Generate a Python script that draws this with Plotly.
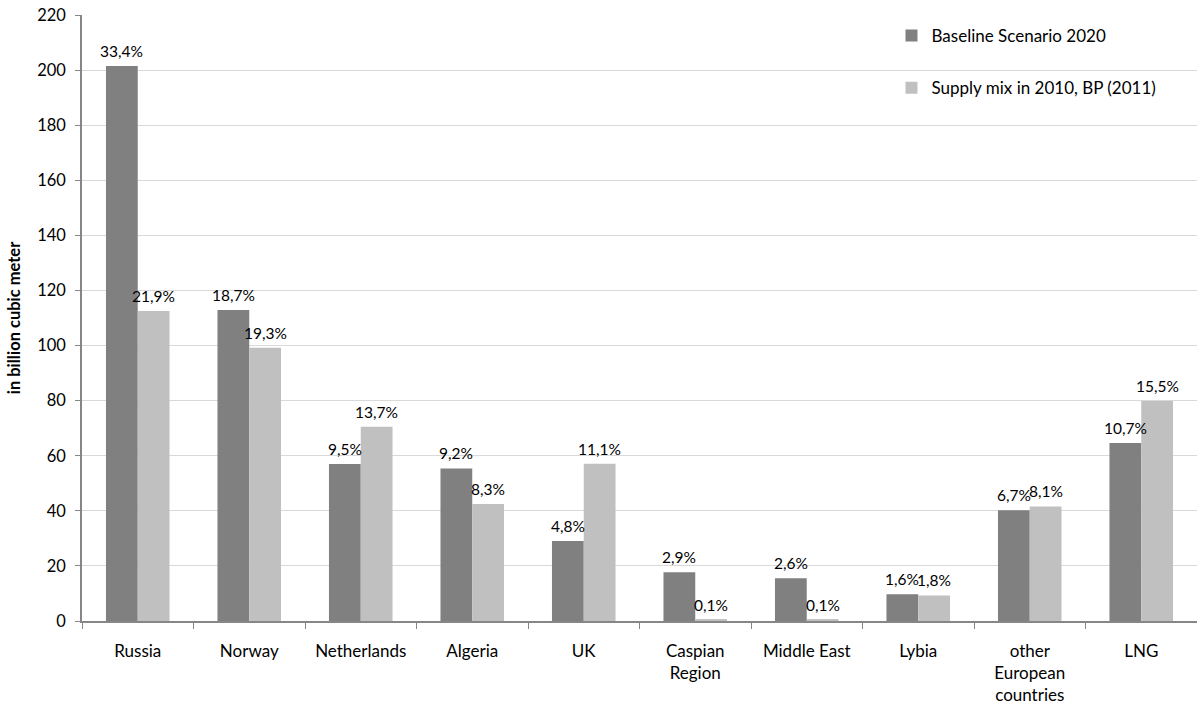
import plotly.graph_objects as go

categories = ["Russia", "Norway", "Netherlands", "Algeria", "UK", "Caspian<br>Region",
              "Middle East", "Lybia", "other<br>European<br>countries", "LNG"]
baseline_2020 = [201.5, 112.9, 57.0, 55.4, 29.0, 17.7, 15.5, 9.7, 40.2, 64.6]
supply_2010 = [112.5, 99.2, 70.5, 42.5, 57.1, 0.5, 0.5, 9.3, 41.6, 79.9]
baseline_labels = ["33,4%", "18,7%", "9,5%", "9,2%", "4,8%", "2,9%", "2,6%", "1,6%", "6,7%", "10,7%"]
supply_labels = ["21,9%", "19,3%", "13,7%", "8,3%", "11,1%", "0,1%", "0,1%", "1,8%", "8,1%", "15,5%"]
y_ticks = [0, 20, 40, 60, 80, 100, 120, 140, 160, 180, 200, 220]

FONT = "Lato"
W, H = 1197, 708
M = dict(l=82, r=0, t=15, b=87)
BARGAP = 0.43

fig = go.Figure()
fig.add_trace(go.Bar(
    name="Baseline Scenario 2020", x=categories, y=baseline_2020,
    marker=dict(color="#808080", line=dict(width=0)), legendgroup="a",
))
fig.add_trace(go.Bar(
    name="Supply mix in 2010, BP (2011)", x=categories, y=supply_2010,
    marker=dict(color="#C0C0C0", line=dict(width=0)), legendgroup="b",
))

# data labels above each bar (offset by half the bar width in pixels)
cat_px = (W - M["l"] - M["r"]) / len(categories)
bar_px = cat_px * (1 - BARGAP) / 2
annotations = []
for series, labels, sign in ((baseline_2020, baseline_labels, -1), (supply_2010, supply_labels, 1)):
    for c, v, t in zip(categories, series, labels):
        annotations.append(dict(
            x=c, y=v, xref="x", yref="y", text=t, showarrow=False,
            xanchor="center", yanchor="bottom", xshift=sign * bar_px / 2, yshift=4,
            font=dict(family=FONT, size=15.5, color="#000000"),
        ))

fig.update_layout(
    width=W, height=H,
    margin=M,
    paper_bgcolor="white", plot_bgcolor="white",
    barmode="group", bargap=BARGAP, bargroupgap=0,
    font=dict(family=FONT, size=15, color="#000000"),
    showlegend=True,
    annotations=annotations,
    legend=dict(x=0.726, y=0.995, xanchor="left", yanchor="top",
                bgcolor="rgba(0,0,0,0)", tracegroupgap=27,
                font=dict(family=FONT, size=17, color="#000000"),
                itemwidth=30),
    xaxis=dict(
        showline=True, linecolor="#868686", linewidth=1.5,
        ticks="outside", tickson="boundaries", ticklen=6, tickcolor="#868686",
        tickfont=dict(family=FONT, size=17), showgrid=False, ticklabelstandoff=14,
    ),
    yaxis=dict(
        range=[0, 220], tickvals=y_ticks, showline=True, linecolor="#868686", linewidth=1.5,
        ticks="outside", ticklen=5, tickcolor="#868686", gridcolor="#D9D9D9", gridwidth=1,
        tickfont=dict(family=FONT, size=16.5), zeroline=False, ticklabelstandoff=6,
        title=dict(text="<b>in billion cubic meter</b>", font=dict(family=FONT, size=16.5), standoff=12),
    ),
)

fig.write_html("out.html")
